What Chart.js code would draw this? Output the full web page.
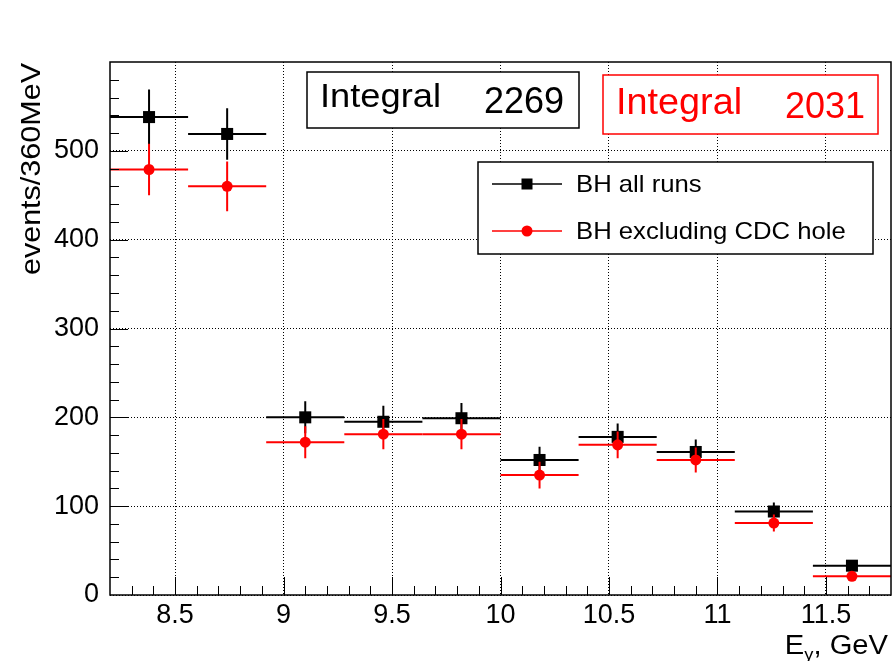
<!DOCTYPE html>
<html>
<head>
<meta charset="utf-8">
<script src="https://cdn.jsdelivr.net/npm/chart.js@4/dist/chart.umd.min.js"></script>
<style>
  html, body { margin: 0; padding: 0; background: #fff; }
  #wrap { width: 893px; height: 661px; }
</style>
</head>
<body>
<div id="wrap"><canvas id="chart" width="893" height="661"></canvas></div>
<script>
// bin centres in GeV, bins are 360 MeV wide
const binCenters = [8.38, 8.74, 9.10, 9.46, 9.82, 10.18, 10.54, 10.90, 11.26, 11.62];
const binHalfWidth = 0.18;
const allRuns = [538, 519, 200, 195, 199, 152, 178, 161, 94, 33];
const allRunsErr = [31, 29, 18, 18, 17, 15, 15, 14, 10, 6];
const noHole = [479, 460, 172, 181, 181, 135, 169, 152, 81, 21];
const noHoleErr = [29, 28, 18, 17, 17, 15, 15, 14, 9.5, 4.5];
const xTicks = [8.5, 9, 9.5, 10, 10.5, 11, 11.5];
const yTicks = [0, 100, 200, 300, 400, 500];
const integralAll = '2269';
const integralNoHole = '2031';
const seriesNames = ['BH all runs', 'BH excluding CDC hole'];

const FONT = '"Liberation Sans", Arial, Helvetica, sans-serif';
const RED = '#ff0000';

const toPoints = (vals, errs) => vals.map((v, i) => ({ x: binCenters[i], y: v, err: errs[i] }));

function text(ctx, str, x, y, size, color, align, sx) {
  ctx.save();
  ctx.font = `${size}px ${FONT}`;
  ctx.fillStyle = color;
  ctx.textBaseline = 'alphabetic';
  ctx.textAlign = 'left';
  const w = ctx.measureText(str).width * sx;
  ctx.translate(align === 'right' ? x - w : x, y);
  ctx.scale(sx, 1);
  ctx.fillText(str, 0, 0);
  ctx.restore();
  return w;
}

const rootStyle = {
  id: 'rootStyle',
  beforeDatasetDraw(chart, args) {
    const ds = chart.data.datasets[args.index];
    const { x, y } = chart.scales;
    const a = chart.chartArea;
    const ctx = chart.ctx;
    ctx.save();
    ctx.beginPath();
    ctx.rect(a.left, a.top, a.right - a.left, a.bottom - a.top);
    ctx.clip();
    ctx.strokeStyle = ds.borderColor;
    ctx.lineWidth = 2;
    ds.data.forEach(p => {
      const px = x.getPixelForValue(p.x), py = y.getPixelForValue(p.y);
      ctx.beginPath();
      ctx.moveTo(x.getPixelForValue(p.x - binHalfWidth), py);
      ctx.lineTo(x.getPixelForValue(p.x + binHalfWidth), py);
      ctx.moveTo(px, y.getPixelForValue(p.y + p.err));
      ctx.lineTo(px, y.getPixelForValue(p.y - p.err));
      ctx.stroke();
    });
    ctx.restore();
  },
  afterDraw(chart) {
    const { x, y } = chart.scales;
    const a = chart.chartArea;
    const ctx = chart.ctx;
    ctx.save();

    // inward ticks
    ctx.strokeStyle = '#000';
    ctx.lineWidth = 1;
    ctx.beginPath();
    for (let i = 83; i < 118; i++) {
      const px = Math.round(x.getPixelForValue(i / 10)) + 0.5;
      const len = i % 5 === 0 ? 18 : 9;
      ctx.moveTo(px, a.bottom); ctx.lineTo(px, a.bottom - len);
    }
    for (let v = 20; v < 600; v += 20) {
      const py = Math.round(y.getPixelForValue(v)) + 0.5;
      const len = v % 100 === 0 ? 18 : 9;
      ctx.moveTo(a.left, py); ctx.lineTo(a.left + len, py);
    }
    ctx.stroke();

    // frame
    ctx.lineWidth = 1.5;
    ctx.strokeRect(a.left, a.top, a.right - a.left, a.bottom - a.top);

    // integral boxes
    ctx.fillStyle = '#fff';
    ctx.fillRect(307, 72, 272, 56);
    ctx.strokeStyle = '#000';
    ctx.strokeRect(307, 72, 272, 56);
    text(ctx, 'Integral', 320, 107, 33, '#000', 'left', 1.1);
    text(ctx, integralAll, 564, 113, 36, '#000', 'right', 1);

    ctx.fillStyle = '#fff';
    ctx.fillRect(603, 75, 275, 59);
    ctx.strokeStyle = RED;
    ctx.strokeRect(603, 75, 275, 59);
    text(ctx, 'Integral', 616, 114, 36, RED, 'left', 1.05);
    text(ctx, integralNoHole, 865, 118, 36, RED, 'right', 1);

    // legend
    ctx.fillStyle = '#fff';
    ctx.fillRect(478, 162, 395, 92);
    ctx.strokeStyle = '#000';
    ctx.lineWidth = 1.5;
    ctx.strokeRect(478, 162, 395, 92);
    const rows = [
      { y: 184, color: '#000', name: seriesNames[0], square: true },
      { y: 231, color: RED, name: seriesNames[1], square: false }
    ];
    rows.forEach(r => {
      ctx.strokeStyle = r.color;
      ctx.fillStyle = r.color;
      ctx.lineWidth = 1.5;
      ctx.beginPath();
      ctx.moveTo(492, r.y); ctx.lineTo(562, r.y);
      ctx.stroke();
      if (r.square) {
        ctx.fillRect(521.5, r.y - 5.5, 11, 11);
      } else {
        ctx.beginPath(); ctx.arc(527, r.y, 5.5, 0, Math.PI * 2); ctx.fill();
      }
      text(ctx, r.name, 576, r.y + 8, 24, '#000', 'left', 1.07);
    });

    // y title
    ctx.save();
    ctx.translate(40, 63);
    ctx.rotate(-Math.PI / 2);
    text(ctx, 'events/360MeV', 0, 0, 28, '#000', 'right', 1.09);
    ctx.restore();

    // x title: E_gamma, GeV
    ctx.font = `27px ${FONT}`;
    const sx = 1.08;
    const wE = ctx.measureText('E').width * sx;
    ctx.font = `17px ${FONT}`;
    const wG = ctx.measureText('γ').width * sx;
    ctx.font = `27px ${FONT}`;
    const wR = ctx.measureText(', GeV').width * sx;
    const x0 = 888 - wR - wG - wE;
    text(ctx, 'E', x0, 654, 27, '#000', 'left', sx);
    text(ctx, 'γ', x0 + wE, 660, 17, '#000', 'left', sx);
    text(ctx, ', GeV', x0 + wE + wG, 654, 27, '#000', 'left', sx);

    ctx.restore();
  }
};

const tickFont = { family: FONT, size: 27 };

new Chart(document.getElementById('chart'), {
  type: 'scatter',
  data: {
    datasets: [
      {
        label: seriesNames[1],
        data: toPoints(noHole, noHoleErr),
        borderColor: RED,
        backgroundColor: RED,
        pointStyle: 'circle',
        pointRadius: 5.5,
        pointBorderWidth: 0,
        order: 0
      },
      {
        label: seriesNames[0],
        data: toPoints(allRuns, allRunsErr),
        borderColor: '#000',
        backgroundColor: '#000',
        pointStyle: 'rect',
        pointRadius: 8.5,
        pointBorderWidth: 0,
        order: 1
      }
    ]
  },
  options: {
    responsive: false,
    animation: false,
    events: [],
    layout: { autoPadding: false, padding: { top: 62, right: 2, left: 0, bottom: 0 } },
    plugins: { legend: { display: false }, tooltip: { enabled: false } },
    scales: {
      x: {
        type: 'linear',
        min: 8.2,
        max: 11.8,
        afterBuildTicks: s => { s.ticks = xTicks.map(v => ({ value: v })); },
        afterFit: s => { s.height = 66; s.paddingLeft = 0; s.paddingRight = 0; },
        grid: { color: '#000', lineWidth: 1, drawTicks: false },
        border: { display: false, dash: [1, 2] },
        ticks: { font: tickFont, color: '#000', padding: 4, maxRotation: 0, autoSkip: false, callback: v => String(v) }
      },
      y: {
        type: 'linear',
        min: 0,
        max: 600,
        afterBuildTicks: s => { s.ticks = yTicks.map(v => ({ value: v })); },
        afterFit: s => { s.width = 110; s.paddingTop = 0; s.paddingBottom = 0; },
        grid: { color: '#000', lineWidth: 1, drawTicks: false },
        border: { display: false, dash: [1, 2] },
        ticks: { font: tickFont, color: '#000', padding: 11, callback: v => String(v) }
      }
    }
  },
  plugins: [rootStyle]
});
</script>
</body>
</html>
